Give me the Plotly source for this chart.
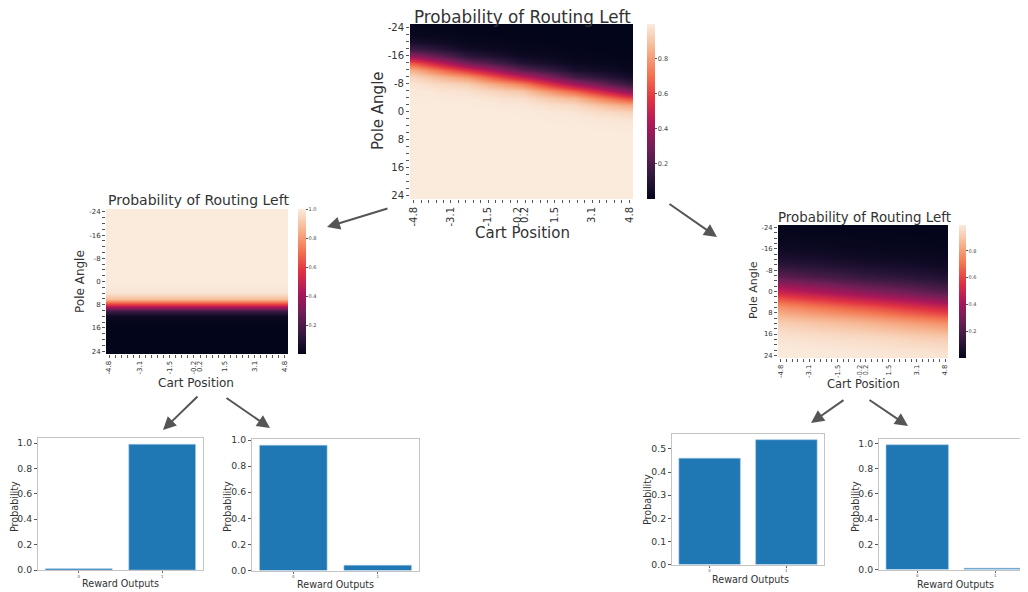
import plotly.graph_objects as go

# ---------------- data ----------------
cart_position = [-4.8, -2.4, 0.0, 2.4, 4.8]
pole_angle = [-24, -22, -20, -18, -16, -14, -12, -10, -8, -6, -4, -2, 0,
              2, 4, 6, 8, 10, 12, 14, 16, 18, 20, 22, 24]
x_tick_labels = ["-4.8", "-3.1", "-1.5", "-0.2", "0.2", "1.5", "3.1", "4.8"]
y_tick_labels = ["-24", "-16", "-8", "0", "8", "16", "24"]

# root node: probability of routing left (rows = pole angle, cols = cart position)
prob_root = [
    [0.007, 0.002, 0.000, 0.000, 0.000],
    [0.020, 0.005, 0.001, 0.000, 0.000],
    [0.058, 0.014, 0.004, 0.001, 0.000],
    [0.160, 0.043, 0.011, 0.003, 0.001],
    [0.360, 0.120, 0.033, 0.008, 0.002],
    [0.640, 0.290, 0.093, 0.024, 0.006],
    [0.840, 0.555, 0.240, 0.068, 0.018],
    [0.940, 0.790, 0.486, 0.180, 0.053],
    [0.980, 0.920, 0.740, 0.400, 0.145],
    [0.993, 0.972, 0.900, 0.670, 0.340],
    [0.996, 0.990, 0.963, 0.860, 0.610],
    [0.997, 0.997, 0.988, 0.950, 0.826],
    [0.998, 0.998, 0.996, 0.983, 0.935],
    [0.998, 0.998, 0.997, 0.994, 0.978],
    [0.998, 0.998, 0.998, 0.997, 0.992],
    [0.998, 0.998, 0.998, 0.998, 0.997],
    [0.998, 0.998, 0.998, 0.998, 0.998],
    [0.998, 0.998, 0.998, 0.998, 0.998],
    [0.998, 0.998, 0.998, 0.998, 0.998],
    [0.998, 0.998, 0.998, 0.998, 0.998],
    [0.998, 0.998, 0.998, 0.998, 0.998],
    [0.998, 0.998, 0.998, 0.998, 0.998],
    [0.998, 0.998, 0.998, 0.998, 0.998],
    [0.998, 0.998, 0.998, 0.998, 0.998],
    [0.998, 0.998, 0.998, 0.998, 0.998],
]

# left child node
prob_left_node = [
    [1.000, 1.000, 1.000, 1.000, 1.000],
    [1.000, 1.000, 1.000, 1.000, 1.000],
    [1.000, 1.000, 1.000, 1.000, 1.000],
    [1.000, 1.000, 1.000, 1.000, 1.000],
    [1.000, 1.000, 1.000, 1.000, 1.000],
    [1.000, 1.000, 1.000, 1.000, 1.000],
    [1.000, 1.000, 1.000, 1.000, 1.000],
    [1.000, 1.000, 1.000, 1.000, 1.000],
    [1.000, 1.000, 1.000, 1.000, 1.000],
    [1.000, 1.000, 1.000, 1.000, 1.000],
    [1.000, 1.000, 1.000, 1.000, 1.000],
    [1.000, 1.000, 1.000, 1.000, 1.000],
    [0.999, 0.999, 0.999, 0.999, 0.999],
    [0.996, 0.996, 0.996, 0.996, 0.996],
    [0.978, 0.978, 0.978, 0.978, 0.978],
    [0.880, 0.880, 0.880, 0.880, 0.880],
    [0.545, 0.545, 0.545, 0.545, 0.545],
    [0.163, 0.163, 0.163, 0.163, 0.163],
    [0.031, 0.031, 0.031, 0.031, 0.031],
    [0.005, 0.005, 0.005, 0.005, 0.005],
    [0.001, 0.001, 0.001, 0.001, 0.001],
    [0.000, 0.000, 0.000, 0.000, 0.000],
    [0.000, 0.000, 0.000, 0.000, 0.000],
    [0.000, 0.000, 0.000, 0.000, 0.000],
    [0.000, 0.000, 0.000, 0.000, 0.000],
]

# right child node
prob_right_node = [
    [0.008, 0.006, 0.0045, 0.0035, 0.0025],
    [0.012, 0.009, 0.0067, 0.005, 0.0037],
    [0.018, 0.014, 0.010, 0.008, 0.0055],
    [0.027, 0.021, 0.015, 0.0115, 0.008],
    [0.039, 0.030, 0.022, 0.017, 0.012],
    [0.057, 0.044, 0.032, 0.025, 0.018],
    [0.083, 0.065, 0.047, 0.037, 0.027],
    [0.120, 0.094, 0.069, 0.054, 0.039],
    [0.168, 0.134, 0.100, 0.079, 0.057],
    [0.230, 0.186, 0.142, 0.113, 0.083],
    [0.310, 0.254, 0.198, 0.159, 0.120],
    [0.400, 0.335, 0.269, 0.219, 0.168],
    [0.500, 0.427, 0.354, 0.292, 0.230],
    [0.600, 0.525, 0.450, 0.380, 0.310],
    [0.690, 0.620, 0.550, 0.475, 0.400],
    [0.770, 0.708, 0.646, 0.573, 0.500],
    [0.830, 0.780, 0.731, 0.666, 0.600],
    [0.880, 0.841, 0.802, 0.746, 0.690],
    [0.917, 0.888, 0.858, 0.814, 0.770],
    [0.943, 0.921, 0.900, 0.865, 0.830],
    [0.961, 0.946, 0.931, 0.906, 0.880],
    [0.973, 0.963, 0.953, 0.935, 0.917],
    [0.982, 0.975, 0.968, 0.956, 0.943],
    [0.988, 0.983, 0.978, 0.970, 0.961],
    [0.992, 0.989, 0.985, 0.979, 0.973],
]

reward_outputs = [0, 1]
reward_ll = [0.01, 0.99]
reward_lr = [0.96, 0.04]
reward_rl = [0.46, 0.54]
reward_rr = [0.99, 0.01]

# ---------------- styling ----------------
OFF = 8                     # page body margin of the html page
W, H = 1028 - OFF, 592 - OFF
FONT = "DejaVu Sans"
TXT = "#333333"
ROCKET = [[0.0, "#03051a"], [0.07, "#1b0f2e"], [0.143, "#35193e"], [0.286, "#701f57"],
          [0.429, "#ad1759"], [0.571, "#e13342"], [0.714, "#f37651"],
          [0.857, "#f6b48f"], [1.0, "#faebdd"]]


def px_x(x):
    return (x - OFF) / W


def px_y(y):
    return 1 - (y - OFF) / H


fig = go.Figure()

# cell-centre tick positions of the labelled cart positions (30 cells originally)
n_cells = 30
step = 9.6 / (n_cells - 1)
x_tick_pos = [-4.8 + i * step for i in [0, 5, 10, 14, 15, 19, 24, 29]]
y_tick_pos = [int(s) for s in y_tick_labels]

heatmaps = [
    (prob_root, "", (410, 633, 24, 199), 647, 0.0, 0.998, [0.2, 0.4, 0.6, 0.8], 10, 6.5, 8),
    (prob_left_node, "2", (106, 288, 209, 354), 298, 0.0, 1.0, [0.2, 0.4, 0.6, 0.8, 1.0], 7, 5, 8),
    (prob_right_node, "3", (778, 948, 225, 358), 959, 0.0025, 0.992, [0.2, 0.4, 0.6, 0.8], 6.8, 5, 7),
]

for z, sfx, (x0, x1, y0, y1), cbx, zmin, zmax, cbt, tfs, cbfs, cbth in heatmaps:
    fig.add_trace(go.Heatmap(
        z=z, x=cart_position, y=pole_angle, zsmooth="best",
        colorscale=ROCKET, zmin=zmin, zmax=zmax,
        xaxis="x" + sfx, yaxis="y" + sfx,
        colorbar=dict(x=px_x(cbx), xanchor="left", xpad=0, ypad=0,
                      y=px_y((y0 + y1) / 2), yanchor="middle",
                      len=(y1 - y0) / H, lenmode="fraction",
                      thickness=cbth, outlinewidth=0,
                      tickvals=cbt, ticks="outside", ticklen=2, tickwidth=0.6,
                      tickcolor="#555", tickformat=".1f",
                      tickfont=dict(family=FONT, size=cbfs, color="#444")),
    ))
    fig.update_layout(**{
        "xaxis" + sfx: dict(domain=[px_x(x0), px_x(x1)], anchor="y" + sfx,
                            range=[-4.8 - step / 2, 4.8 + step / 2],
                            tickvals=x_tick_pos, ticktext=x_tick_labels, tickangle=-90,
                            ticks="outside", ticklen=3, tickwidth=0.7, tickcolor="#555",
                            tickfont=dict(family=FONT, size=tfs, color=TXT),
                            minor=dict(tick0=-4.8, dtick=step, ticks="outside",
                                       ticklen=3, tickwidth=0.7, tickcolor="#555"),
                            showgrid=False, zeroline=False, showline=False, automargin=False),
        "yaxis" + sfx: dict(domain=[px_y(y1), px_y(y0)], anchor="x" + sfx,
                            range=[25, -25],
                            tickvals=y_tick_pos, ticktext=y_tick_labels,
                            ticks="outside", ticklen=3, tickwidth=0.7, tickcolor="#555",
                            tickfont=dict(family=FONT, size=tfs, color=TXT),
                            minor=dict(tick0=-24, dtick=2, ticks="outside",
                                       ticklen=3, tickwidth=0.7, tickcolor="#555"),
                            showgrid=False, zeroline=False, showline=False, automargin=False),
    })

bars = [
    (reward_ll, "4", (38, 203, 438, 570), [-0.49, 1.49], 1.04, 0.2, True),
    (reward_lr, "5", (252, 419, 439, 570.5), [-0.49, 1.49], 1.008, 0.2, True),
    (reward_rl, "6", (672, 824, 433.5, 564.5), [-0.49, 1.49], 0.567, 0.1, True),
    (reward_rr, "7", (879, 1028, 438.5, 569.5), [-0.49, 1.42], 1.04, 0.2, False),
]

for vals, sfx, (x0, x1, y0, y1), xr, ytop, dt, mir in bars:
    fig.add_trace(go.Bar(x=reward_outputs, y=vals, width=0.8,
                         marker=dict(color="#1f77b4", line=dict(width=0.6, color="#9cc3e4")),
                         xaxis="x" + sfx, yaxis="y" + sfx, showlegend=False))
    fig.update_layout(**{
        "xaxis" + sfx: dict(domain=[px_x(x0), min(1.0, px_x(x1))], anchor="y" + sfx, range=xr,
                            tickvals=reward_outputs, ticktext=[str(v) for v in reward_outputs],
                            ticks="outside", ticklen=2, tickwidth=0.6, tickcolor="#666",
                            tickfont=dict(family=FONT, size=4, color="#555"),
                            showline=True, mirror=True, linecolor="#c4c4c4", linewidth=1,
                            showgrid=False, zeroline=False, automargin=False),
        "yaxis" + sfx: dict(domain=[px_y(y1), px_y(y0)], anchor="x" + sfx, range=[0, ytop],
                            dtick=dt, tick0=0, tickformat=".1f",
                            ticks="outside", ticklen=3, tickwidth=0.7, tickcolor="#555",
                            tickfont=dict(family=FONT, size=9.3, color=TXT),
                            showline=True, mirror=mir, linecolor="#c4c4c4", linewidth=1,
                            showgrid=False, zeroline=False, automargin=False),
    })

# ---------------- text ----------------
ann = []


def text(t, x, y, size, angle=0):
    ann.append(dict(text=t, x=px_x(x), y=px_y(y), xref="paper", yref="paper",
                    xanchor="center", yanchor="middle", showarrow=False, textangle=angle,
                    font=dict(family=FONT, size=size, color=TXT)))


title = "Probability of Routing Left"
text(title, 522, 17.5, 16.8)
text("Cart Position", 522, 233, 15)
text("Pole Angle", 378, 111, 15, -90)

text(title, 198, 200, 14)
text("Cart Position", 196, 383, 12)
text("Pole Angle", 80, 282, 12, -90)

text(title, 864, 217, 13.4)
text("Cart Position", 863, 384, 11.5)
text("Pole Angle", 753, 290, 11, -90)

for cx, cy, px_, py_ in [(120, 583, 14, 507), (335, 584, 227, 507),
                         (750, 579, 647, 500), (955, 584, 855, 507)]:
    text("Reward Outputs", cx, cy, 9.6)
    text("Probability", px_, py_, 9.6, -90)

# ---------------- arrows ----------------
arrows = [((389, 208), (327, 227)), ((668, 203), (717, 237)),
          ((199, 395), (163, 430)), ((225, 397), (270, 428)),
          ((845, 399), (811, 423)), ((868, 399), (908, 426))]
for (tx, ty), (hx, hy) in arrows:
    ann.append(dict(x=px_x(hx), y=px_y(hy), xref="paper", yref="paper",
                    ax=tx - hx, ay=ty - hy, axref="pixel", ayref="pixel",
                    text="", showarrow=True, arrowhead=2, arrowsize=1.3,
                    arrowwidth=2, arrowcolor="#555555", standoff=0, startstandoff=0))

fig.update_layout(width=W, height=H,
                  margin=dict(l=0, r=0, t=0, b=0, pad=0, autoexpand=False),
                  paper_bgcolor="white", plot_bgcolor="white",
                  showlegend=False, annotations=ann, bargap=0.2)

fig.write_html("out.html")
